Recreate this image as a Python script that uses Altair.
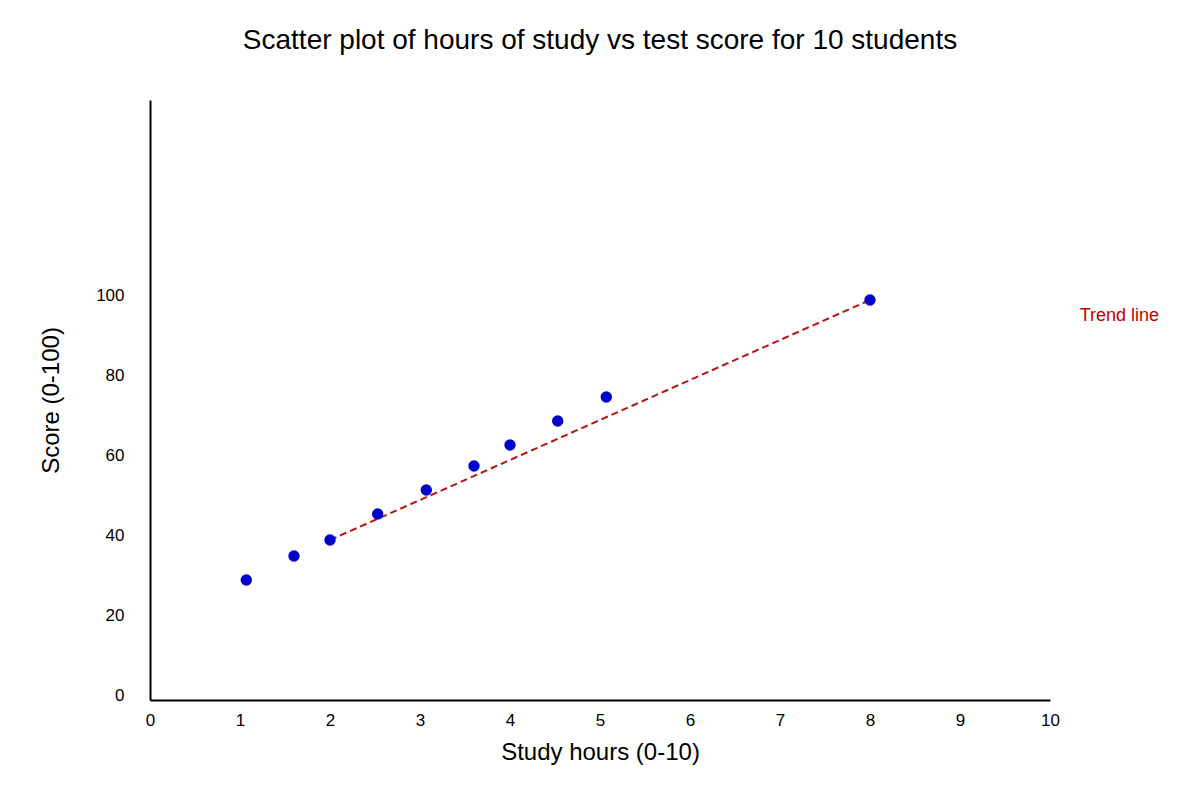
import pandas as pd
import altair as alt

# study hours vs score
hours = [1.07, 1.6, 2.0, 2.53, 3.07, 3.6, 4.0, 4.53, 5.07, 8.0]
scores = [30, 36, 40, 46.5, 52.5, 58.5, 63.75, 69.75, 75.75, 100]

trend_x = [2.0, 8.0]
trend_y = [40, 100]

label_x = [10.33]
label_y = [96.0]
label_text = ["Trend line"]

y_ticks = [0, 20, 40, 60, 80, 100]
x_ticks = list(range(0, 11))

pts = pd.DataFrame({"hours": hours, "score": scores})
trend = pd.DataFrame({"hours": trend_x, "score": trend_y})
lab = pd.DataFrame({"hours": label_x, "score": label_y, "text": label_text})

x_enc = alt.X("hours:Q", scale=alt.Scale(domain=[0, 10], nice=False),
              axis=alt.Axis(values=x_ticks, format="d", labelFlush=False,
                            title="Study hours (0-10)", ticks=False,
                            labelPadding=12, titlePadding=12))
y_enc = alt.Y("score:Q", scale=alt.Scale(domain=[0, 150], nice=False),
              axis=alt.Axis(values=y_ticks, format="d", title="Score (0-100)", ticks=False,
                            labelBaseline="alphabetic", labelPadding=26, titlePadding=32))

dots = alt.Chart(pts).mark_circle(size=130, color="#0000c8", opacity=1).encode(x=x_enc, y=y_enc)

line = alt.Chart(trend).mark_line(color="#b81414", strokeDash=[7, 4], strokeWidth=2).encode(
    x="hours:Q", y="score:Q")

text = alt.Chart(lab).mark_text(color="#c00000", align="left", fontSize=18, clip=False).encode(
    x="hours:Q", y="score:Q", text="text:N")

chart = (line + dots + text).properties(
    width=900, height=600,
    title=alt.TitleParams("Scatter plot of hours of study vs test score for 10 students",
                          fontSize=28, fontWeight="normal", offset=45, anchor="middle"),
    autosize=alt.AutoSizeParams(type="none"),
    padding={"left": 142, "top": 92, "right": 142, "bottom": 92},
).configure_view(stroke=None).configure_axis(
    grid=False, domainColor="black", domainWidth=2,
    labelFontSize=17, labelColor="black", labelFont="Liberation Sans",
    titleFontSize=24, titleFontWeight="normal", titleColor="black", titleFont="Liberation Sans",
).configure_title(font="Liberation Sans", color="black").configure_text(font="Liberation Sans")

chart.save("out.html", embed_options={"renderer": "svg", "actions": False})
